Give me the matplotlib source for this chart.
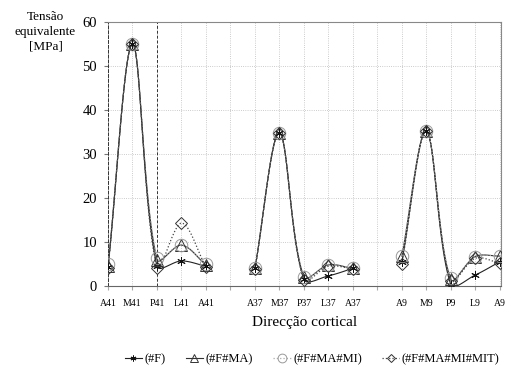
import numpy as np
import matplotlib
matplotlib.use("Agg")
import matplotlib.pyplot as plt

labels = ["A41", "M41", "P41", "L41", "A41", "", "A37", "M37", "P37", "L37", "A37", "",
          "A9", "M9", "P9", "L9", "A9"]
groups = [[0, 1, 2, 3, 4], [6, 7, 8, 9, 10], [12, 13, 14, 15, 16]]

s_F = [4.3, 55.0, 4.5, 5.7, 4.5,   4.0, 34.8, 1.5, 2.3, 4.0,   5.5, 35.2, 0.3, 2.5, 5.5]
s_MA = [4.5, 55.0, 6.0, 9.3, 4.8,  4.0, 34.8, 2.0, 4.8, 4.0,   6.8, 35.2, 1.5, 6.7, 6.8]
s_MI = [5.0, 55.0, 6.3, 9.3, 5.0,  4.0, 34.8, 2.1, 4.8, 4.0,   6.8, 35.2, 1.8, 6.7, 6.8]
s_MIT = [4.2, 55.0, 4.2, 14.3, 4.3, 3.9, 34.8, 1.4, 4.5, 3.9,  5.0, 35.2, 1.2, 6.3, 5.2]
series_names = ["(#F)", "(#F#MA)", "(#F#MA#MI)", "(#F#MA#MI#MIT)"]

plt.rcParams["font.family"] = ["Liberation Serif", "DejaVu Serif"]

fig = plt.figure(figsize=(5.11, 3.69), dpi=100)
ax = fig.add_axes([108 / 511, 1 - 286 / 369, (501 - 108) / 511, (286 - 22) / 369])

SX, SY = 24.56, 4.4  # approx pixel per data unit, used for smoothing shape


def smooth(x, y, n=30):
    P = np.column_stack([np.asarray(x, float) * SX, np.asarray(y, float) * SY])
    m = len(P)
    L = np.linalg.norm(np.diff(P, axis=0), axis=1)
    out = []
    for i in range(m - 1):
        p1, p2 = P[i], P[i + 1]
        if i > 0:
            c1 = p1 + (P[i + 1] - P[i - 1]) * (L[i] / (L[i - 1] + L[i])) / 3.0
        else:
            c1 = p1 + (p2 - p1) / 3.0
        if i + 2 < m:
            c2 = p2 - (P[i + 2] - P[i]) * (L[i] / (L[i] + L[i + 1])) / 3.0
        else:
            c2 = p2 - (p2 - p1) / 3.0
        t = np.linspace(0, 1, n)[:, None]
        seg = ((1 - t) ** 3) * p1 + 3 * ((1 - t) ** 2) * t * c1 + 3 * (1 - t) * t ** 2 * c2 + t ** 3 * p2
        out.append(seg if i == 0 else seg[1:])
    out = np.vstack(out)
    return out[:, 0] / SX, out[:, 1] / SY


styles = [
    dict(color="#222222", ls="-", lw=0.8, marker=(6, 2, 0), ms=6, mfc="none", mec="#111111", mew=0.7),
    dict(color="#333333", ls="-", lw=0.8, marker="^", ms=8, mfc="none", mec="#333333", mew=0.7),
    dict(color="#aaaaaa", ls=":", lw=0.9, marker="o", ms=9, mfc="none", mec="#999999", mew=0.7),
    dict(color="#444444", ls=":", lw=0.9, marker="D", ms=6, mfc="none", mec="#333333", mew=0.7),
]
all_series = [s_F, s_MA, s_MI, s_MIT]

handles = []
for s, st, name in zip(all_series, styles, series_names):
    k = 0
    for g in groups:
        vals = s[k:k + len(g)]
        k += len(g)
        sx, sy = smooth(g, vals)
        ax.plot(sx, np.clip(sy, 0, None), color=st["color"], ls=st["ls"], lw=st["lw"], zorder=3)
        ax.plot(g, vals, ls="none", marker=st["marker"], ms=st["ms"], mfc=st["mfc"],
                mec=st["mec"], mew=st["mew"], zorder=4)
    h, = ax.plot([], [], color=st["color"], ls=st["ls"], lw=st["lw"], marker=st["marker"],
                 ms=st["ms"] * 0.7, mfc="none", mec=st["mec"], mew=st["mew"])
    handles.append(h)

ax.set_xlim(0, 16.05)
ax.set_ylim(0, 60)
ax.set_xticks(range(17))
ax.set_xticklabels(labels, fontsize=7)
ax.set_yticks(range(0, 61, 10))
ax.tick_params(axis="y", labelsize=10.5, length=3, color="#777777", pad=5)
ax.tick_params(axis="x", length=3, color="#aaaaaa", pad=6)
ax.grid(True, color="#bbbbbb", ls=":", lw=0.6)
ax.set_axisbelow(True)
for sp in ["top", "right"]:
    ax.spines[sp].set_color("#888888")
    ax.spines[sp].set_linewidth(0.8)
ax.spines["bottom"].set_color("#666666")
ax.spines["left"].set_color("#333333")
ax.spines["left"].set_linestyle((0, (3, 2)))
ax.spines["left"].set_linewidth(0.7)
ax.axvline(2, color="#333333", ls=(0, (3, 2)), lw=0.7, zorder=2)

ax.set_xlabel("Direcção cortical", fontsize=11, labelpad=6)
fig.text(45.5 / 511, 1 - 11 / 369, "Tensão\nequivalente\n[MPa]", ha="center", va="top",
         fontsize=9.5, linespacing=1.3)

fig.legend(handles=handles, labels=series_names, loc="center", ncol=4,
           bbox_to_anchor=(312 / 511, 1 - 359 / 369), frameon=False, fontsize=9,
           handlelength=1.4, columnspacing=1.6, handletextpad=0.2)

fig.savefig("out.png", dpi=100)
